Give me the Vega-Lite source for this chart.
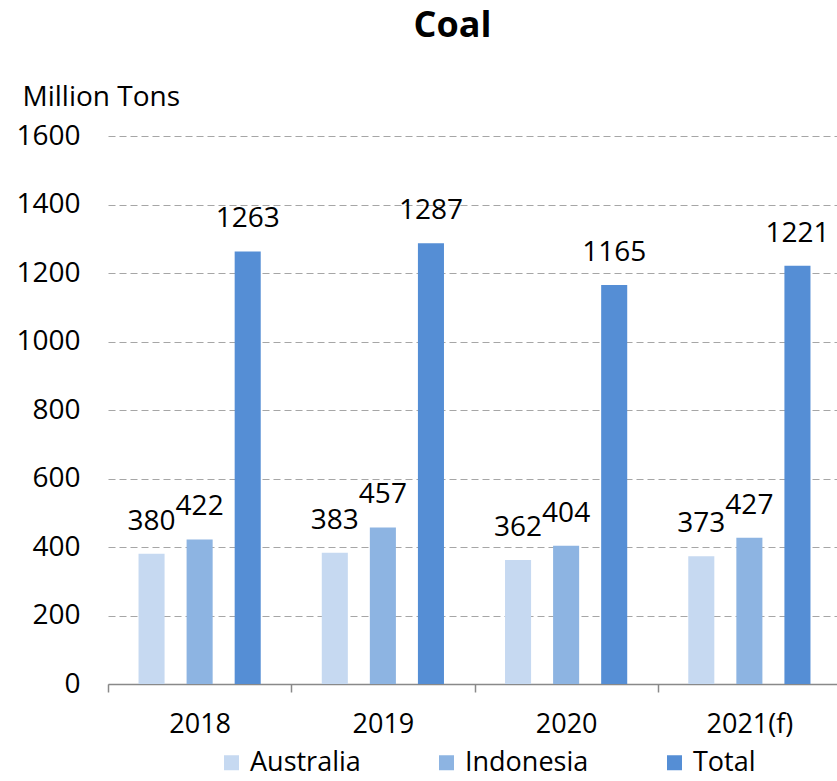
{
  "$schema": "https://vega.github.io/schema/vega-lite/v6.json",
  "autosize": {"type": "none"},
  "padding": {"left": 108, "top": 136, "right": 0, "bottom": 97},
  "width": 733,
  "height": 548,
  "background": "white",
  "config": {
    "view": {"stroke": null},
    "font": "Open Sans"
  },
  "title": {
    "text": "Coal",
    "fontSize": 36,
    "fontWeight": "bold",
    "font": "Open Sans",
    "color": "#000000",
    "anchor": "middle",
    "frame": "group",
    "dx": -22,
    "offset": 38
  },
  "data": {
    "values": [
      {"year": "2018", "country": "Australia", "value": 380},
      {"year": "2018", "country": "Indonesia", "value": 422},
      {"year": "2018", "country": "Total", "value": 1263},
      {"year": "2019", "country": "Australia", "value": 383},
      {"year": "2019", "country": "Indonesia", "value": 457},
      {"year": "2019", "country": "Total", "value": 1287},
      {"year": "2020", "country": "Australia", "value": 362},
      {"year": "2020", "country": "Indonesia", "value": 404},
      {"year": "2020", "country": "Total", "value": 1165},
      {"year": "2021(f)", "country": "Australia", "value": 373},
      {"year": "2021(f)", "country": "Indonesia", "value": 427},
      {"year": "2021(f)", "country": "Total", "value": 1221}
    ]
  },
  "encoding": {
    "x": {
      "field": "year",
      "type": "nominal",
      "sort": null,
      "scale": {"paddingInner": 0, "paddingOuter": 0},
      "axis": {
        "title": null,
        "labelAngle": 0,
        "labelFontSize": 27,
        "labelColor": "#000000",
        "labelPadding": 19,
        "domainColor": "#898989",
        "domainWidth": 1.5,
        "tickColor": "#898989",
        "tickWidth": 1.5,
        "tickSize": 8,
        "tickBand": "extent",
        "grid": false
      }
    },
    "xOffset": {
      "field": "country",
      "type": "nominal",
      "sort": ["Australia", "Indonesia", "Total"],
      "scale": {"paddingInner": 0.458, "paddingOuter": 0.635}
    },
    "y": {
      "field": "value",
      "type": "quantitative",
      "scale": {"domain": [0, 1600], "nice": false},
      "axis": {
        "values": [0, 200, 400, 600, 800, 1000, 1200, 1400, 1600],
        "format": "d",
        "title": "Million Tons",
        "titleAngle": 0,
        "titleAlign": "left",
        "titleBaseline": "middle",
        "titleX": -86,
        "titleY": -39,
        "titleFontSize": 28,
        "titleFontWeight": "normal",
        "titleColor": "#000000",
        "labelFontSize": 28,
        "labelColor": "#000000",
        "labelPadding": 28,
        "domain": false,
        "ticks": false,
        "grid": true,
        "gridColor": "#A6A6A6",
        "gridDash": [7, 4],
        "gridWidth": 1.2
      }
    }
  },
  "layer": [
    {
      "mark": {"type": "bar"},
      "encoding": {
        "color": {
          "field": "country",
          "type": "nominal",
          "sort": ["Australia", "Indonesia", "Total"],
          "scale": {
            "domain": ["Australia", "Indonesia", "Total"],
            "range": ["#C6D9F1", "#8DB4E2", "#558ED5"]
          },
          "legend": {
            "title": null,
            "orient": "none",
            "direction": "horizontal",
            "legendX": 110,
            "legendY": 613,
            "symbolType": "square",
            "symbolSize": 225,
            "symbolStrokeWidth": 0,
            "symbolOpacity": 1,
            "labelFontSize": 27,
            "labelColor": "#000000",
            "labelOffset": 5,
            "columnPadding": 72
          }
        }
      }
    },
    {
      "mark": {"type": "text", "baseline": "middle", "dy": -32, "fontSize": 28, "color": "#000000"},
      "encoding": {
        "text": {"field": "value", "type": "quantitative", "format": "d"}
      }
    }
  ]
}
